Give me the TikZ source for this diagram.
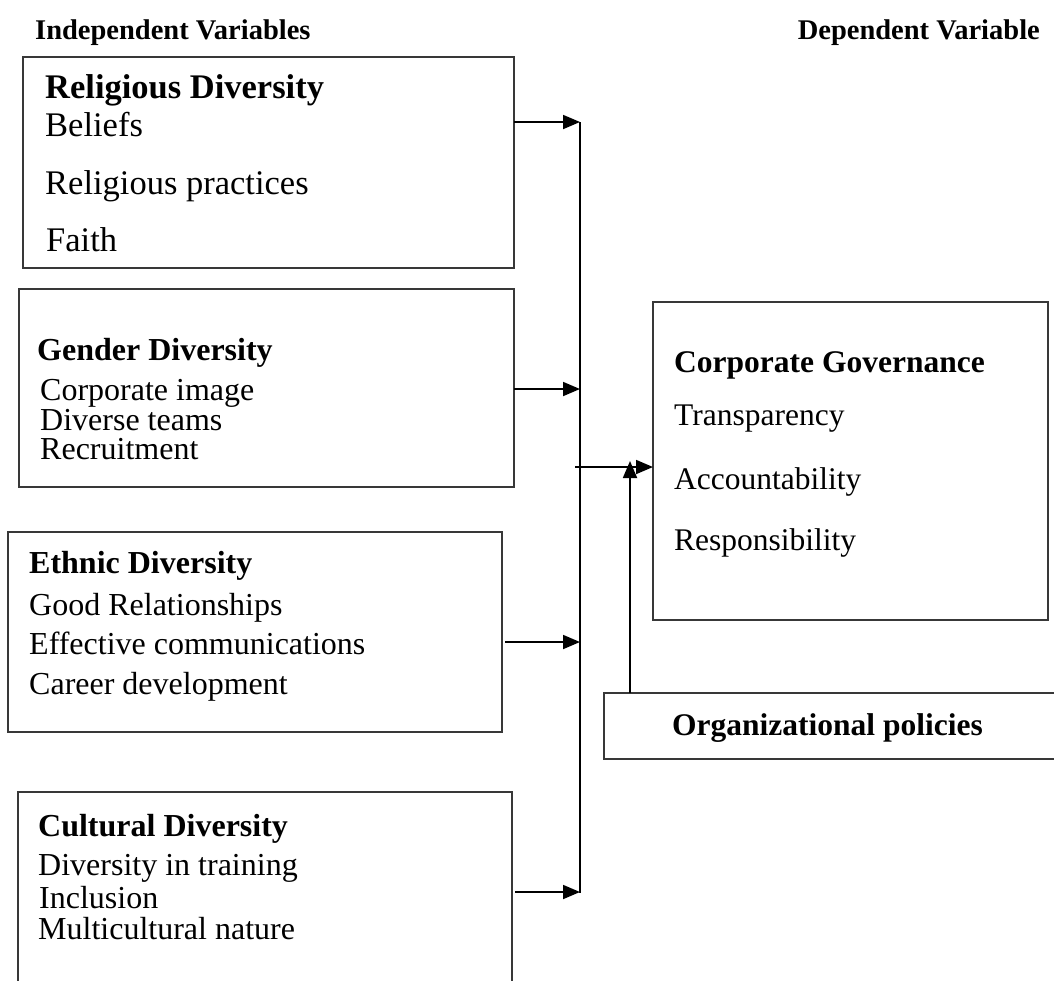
\documentclass[tikz,border=0pt]{standalone}
\usepackage{fontspec}
\setmainfont{Liberation Serif}
\usetikzlibrary{arrows.meta}
\begin{document}
\begin{tikzpicture}[x=1pt,y=-1pt,
  varbox/.style={draw=black!78, line width=1.3pt, inner sep=0pt, outer sep=0pt, anchor=north west},
  body/.style={anchor=base west, inner sep=0pt, font=\fontsize{32}{32}\selectfont},
  head/.style={anchor=base west, inner sep=0pt, font=\fontsize{32}{32}\selectfont\bfseries},
  bigbody/.style={anchor=base west, inner sep=0pt, font=\fontsize{34.5}{34.5}\selectfont},
  bighead/.style={anchor=base west, inner sep=0pt, font=\fontsize{34.5}{34.5}\selectfont\bfseries},
  rbody/.style={anchor=base west, inner sep=0pt, font=\fontsize{31.5}{31.5}\selectfont},
  rhead/.style={anchor=base west, inner sep=0pt, font=\fontsize{31.5}{31.5}\selectfont\bfseries},
  title/.style={inner sep=0pt, font=\fontsize{28.5}{28.5}\selectfont\bfseries},
  link/.style={line width=1.8pt, -{Triangle[length=17pt,width=14pt]}},
]
% page frame
\clip (0,0) rectangle (1054,980);
\fill[white] (0,0) rectangle (1054,980);

% column titles
\node[title, anchor=base west] (indep) at (35,39) {Independent Variables};
\node[title, anchor=base east] (dep) at (1040,39) {Dependent Variable};

% independent variable boxes
\node[varbox, minimum width=491pt, minimum height=211pt] (rel) at (23,57) {};
\node[bighead] (relh) at (45,98) {Religious Diversity};
\node[bigbody] (rel1) at (45,136) {Beliefs};
\node[bigbody] (rel2) at (45,194) {Religious practices};
\node[bigbody] (rel3) at (46,251) {Faith};

\node[varbox, minimum width=495pt, minimum height=198pt] (gen) at (19,289) {};
\node[head] (genh) at (37,360) {Gender Diversity};
\node[body] (gen1) at (40,400) {Corporate image};
\node[body] (gen2) at (40,430) {Diverse teams};
\node[body] (gen3) at (40,459) {Recruitment};

\node[varbox, minimum width=494pt, minimum height=200pt] (eth) at (8,532) {};
\node[head] (ethh) at (29,573) {Ethnic Diversity};
\node[body] (eth1) at (29,615) {Good Relationships};
\node[body] (eth2) at (29,654) {Effective communications};
\node[body] (eth3) at (29,694) {Career development};

\node[varbox, minimum width=494pt, minimum height=220pt] (cul) at (18,792) {};
\node[head] (culh) at (38,836) {Cultural Diversity};
\node[body] (cul1) at (38,875) {Diversity in training};
\node[body] (cul2) at (39,908) {Inclusion};
\node[body] (cul3) at (38,939) {Multicultural nature};

% dependent variable and moderator
\node[varbox, minimum width=395pt, minimum height=318pt] (cg) at (653,302) {};
\node[rhead] (cgh) at (674,372) {Corporate Governance};
\node[rbody] (cg1) at (674,425) {Transparency};
\node[rbody] (cg2) at (674,489) {Accountability};
\node[rbody] (cg3) at (674,550) {Responsibility};

\node[varbox, minimum width=470pt, minimum height=66pt] (org) at (604,693) {};
\node[rhead] (orgh) at (672,735) {Organizational policies};

% collecting bus
\coordinate (b1) at (580,122);
\coordinate (b2) at (580,389);
\coordinate (b3) at (580,642);
\coordinate (b4) at (580,892);
\coordinate (bm) at (575,467);
\coordinate (up) at (630,461);

\draw[line width=1.8pt] (b1) -- (580,893);
\draw[link] (rel.east |- b1) -- (b1);
\draw[link] (gen.east |- b2) -- (b2);
\draw[link] ([xshift=3pt]eth.east |- b3) -- (b3);
\draw[link] ([xshift=3pt]cul.east |- b4) -- (b4);
\draw[link] (bm) -- (cg.west |- bm);
\draw[link] (org.north -| up) -- (up);
\end{tikzpicture}
\end{document}
